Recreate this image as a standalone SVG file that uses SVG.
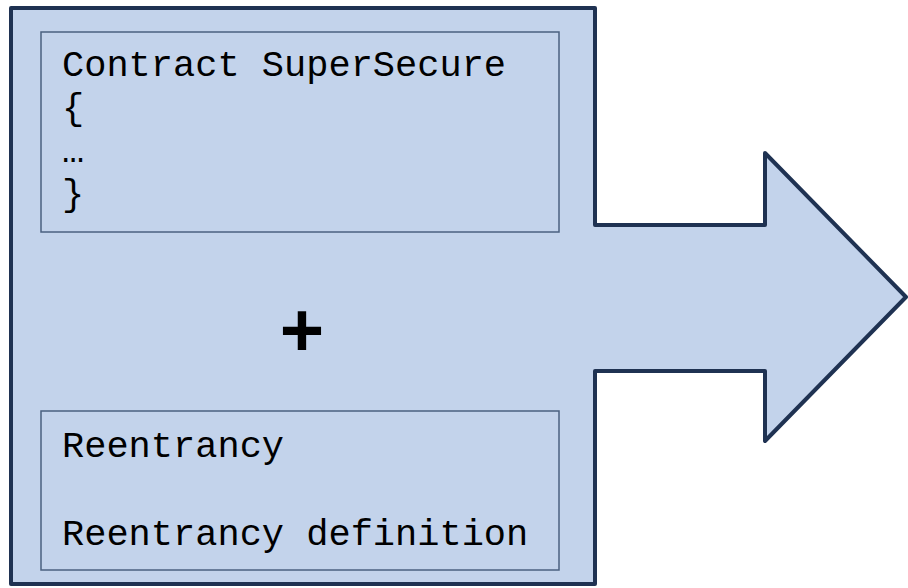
<svg xmlns="http://www.w3.org/2000/svg" width="908" height="588" viewBox="0 0 908 588">
  <style>
    .shape { fill: #C3D3EB; stroke: #1F3252; stroke-width: 4; stroke-linejoin: round; }
    .box { fill: #C3D3EB; stroke: #4B6180; stroke-width: 1.5; }
    .code { font-family: "Liberation Mono", "Courier New", monospace; font-size: 37px; fill: #000000; }
    .plus { font-family: "Liberation Sans", Arial, sans-serif; font-size: 76px; font-weight: bold; fill: #000000; }
  </style>
  <g id="arrow-shape">
    <polygon class="shape" points="11,8 595,8 595,225 765,225 765,153 906,297 765,441 765,371 595,371 595,584 11,584"/>
  </g>
  <g id="contract-box">
    <rect class="box" x="41" y="32" width="518" height="200"/>
    <text class="code" x="62" y="76">Contract SuperSecure</text>
    <text class="code" x="62" y="119">{</text>
    <text class="code" x="62" y="162">…</text>
    <text class="code" x="62" y="205">}</text>
  </g>
  <g id="plus">
    <text class="plus" x="302" y="356" text-anchor="middle">+</text>
  </g>
  <g id="definition-box">
    <rect class="box" x="41" y="411" width="518" height="159"/>
    <text class="code" x="62" y="457">Reentrancy</text>
    <text class="code" x="62" y="545">Reentrancy definition</text>
  </g>
  <g id="connectors"></g>
</svg>
